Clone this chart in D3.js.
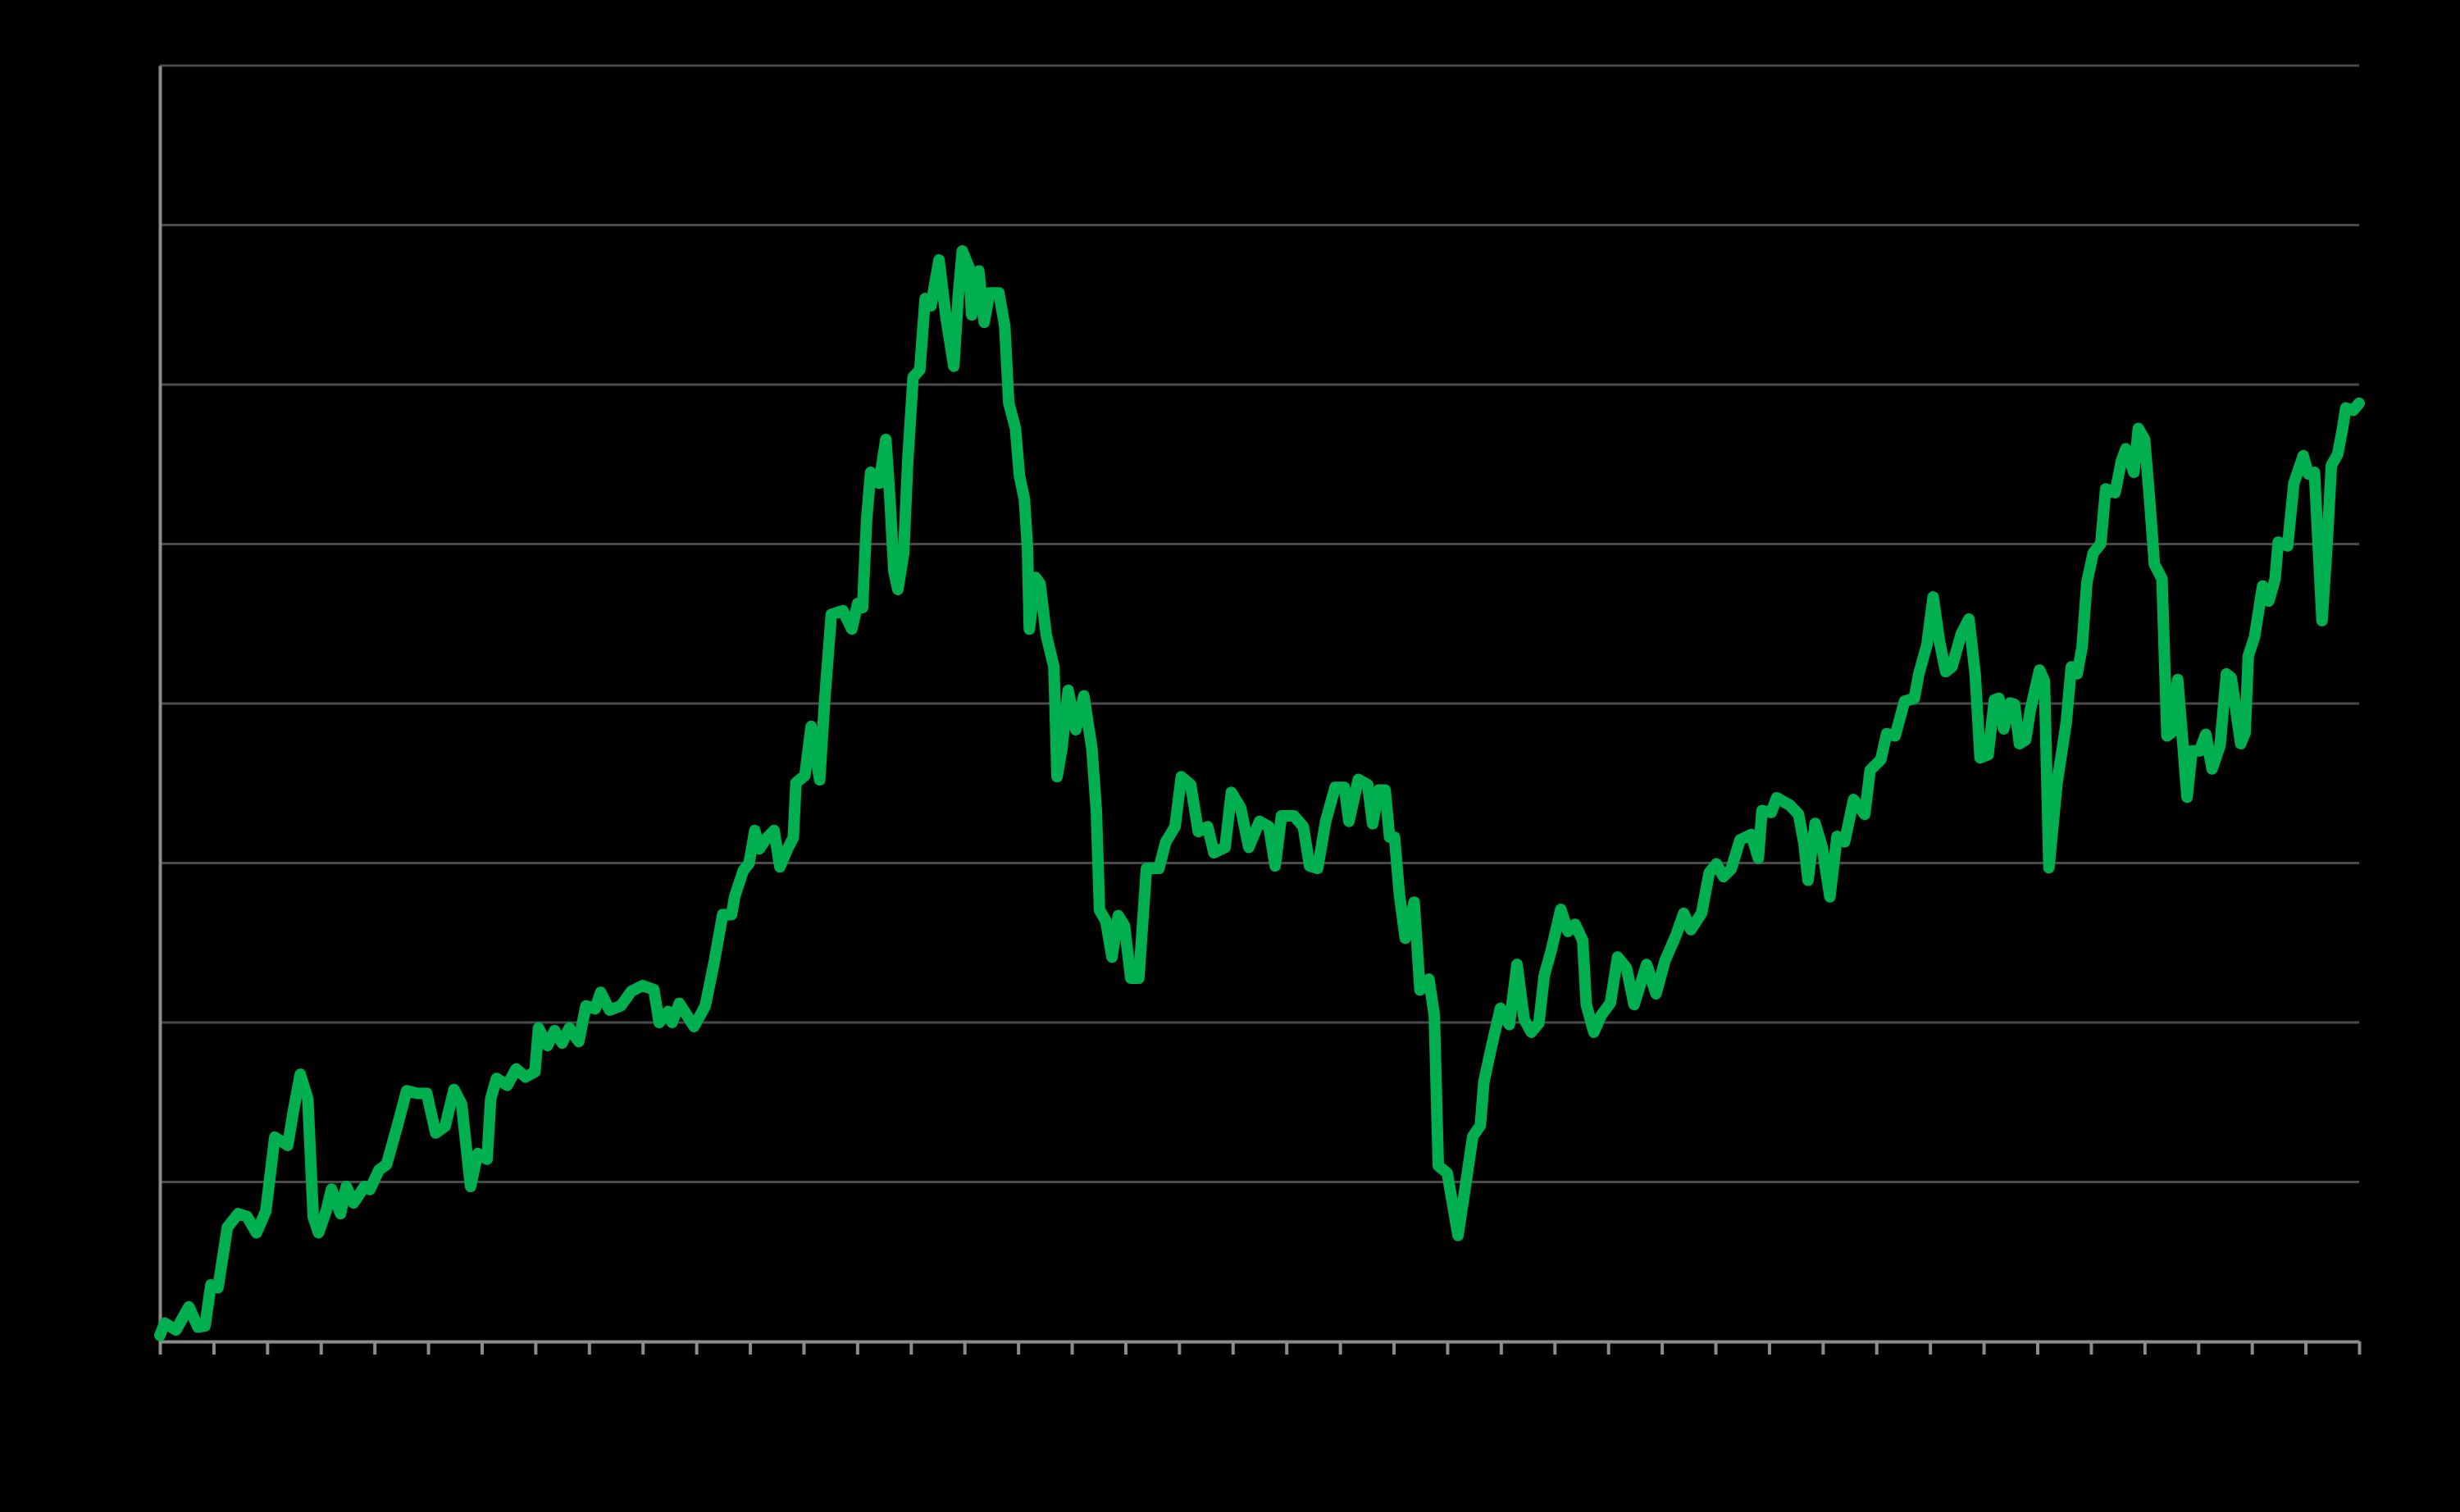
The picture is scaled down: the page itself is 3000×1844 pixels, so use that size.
<!DOCTYPE html>
<html>
<head>
<meta charset="utf-8">
<script src="https://cdn.jsdelivr.net/npm/d3@7"></script>
<style>
  html, body { margin: 0; padding: 0; background: #000; }
  svg { display: block; }
</style>
</head>
<body>
<svg id="chart"></svg>
<script>
// months since start of series (41 years, yearly ticks)
const months = [
  0, 1.1, 3.6, 6.5, 8.5, 10.1, 11.4, 13.0, 15.1, 17.5, 19.5, 21.6, 23.7, 25.7, 28.6, 29.8, 31.4, 33.1, 34.3, 35.5,
  37.2, 38.4, 40.4, 41.7, 43.3, 45.8, 47.0, 49.0, 50.7, 53.1, 55.2, 57.6, 59.7, 61.7, 63.8, 65.8, 67.5, 69.5, 71.1, 73.2,
  74.0, 75.3, 77.7, 79.7, 81.8, 83.9, 84.7, 86.7, 88.3, 90.0, 91.6, 93.7, 95.3, 97.4, 98.6, 100.6, 103.1, 105.5, 108.0, 110.5,
  111.7, 113.7, 114.6, 116.2, 119.5, 122.0, 124.0, 125.9, 127.9, 128.6, 130.5, 131.8, 133.1, 134.1, 135.8, 137.4, 138.7, 140.4, 141.7, 142.3,
  144.3, 145.7, 147.6, 148.7, 150.2, 152.8, 154.8, 156.1, 157.2, 158.1, 159.0, 160.9, 162.4, 163.3, 164.2, 165.1, 166.4, 167.3, 168.5, 170.0,
  171.2, 172.5, 174.3, 175.9, 177.6, 178.6, 179.5, 181.0, 181.6, 183.2, 184.4, 185.6, 187.7, 189.0, 189.9, 191.4, 192.3, 193.4, 194.1, 194.5,
  195.9, 196.9, 198.3, 200.0, 200.7, 201.8, 203.2, 204.9, 206.7, 208.5, 209.5, 210.2, 211.6, 213.0, 214.4, 215.8, 217.2, 219.0, 220.7, 223.5,
  225.0, 227.1, 228.5, 230.6, 232.3, 234.4, 235.8, 238.3, 239.7, 241.8, 243.6, 246.0, 248.1, 249.5, 250.9, 253.7, 255.8, 257.2, 259.0, 260.8,
  262.9, 265.0, 266.0, 268.1, 270.2, 271.3, 272.7, 274.1, 275.1, 276.2, 277.3, 278.6, 280.6, 281.9, 283.9, 285.1, 286.0, 288.0, 290.4, 292.5,
  293.7, 295.4, 296.2, 297.8, 299.9, 301.9, 303.6, 305.2, 306.8, 308.5, 309.7, 311.3, 313.4, 315.0, 316.6, 318.3, 319.1, 320.8, 322.4, 324.5,
  326.1, 328.1, 329.8, 332.6, 334.7, 336.7, 339.2, 340.9, 342.5, 344.9, 346.6, 348.2, 349.8, 351.5, 353.5, 356.0, 357.6, 358.4, 360.5, 361.7,
  364.6, 366.6, 367.8, 368.7, 370.3, 371.9, 373.6, 375.2, 376.9, 378.9, 381.4, 382.6, 385.0, 386.3, 388.2, 390.3, 392.5, 393.5, 395.3, 396.7,
  398.1, 399.5, 400.9, 403.0, 404.7, 406.1, 407.2, 409.0, 410.4, 411.4, 412.5, 413.9, 414.9, 416.0, 417.4, 418.4, 420.5, 421.6, 422.6, 424.4,
  426.5, 427.6, 428.9, 430.0, 431.1, 432.5, 434.2, 435.3, 437.4, 438.8, 439.8, 441.6, 442.6, 444.0, 445.1, 446.2, 447.9, 449.0, 450.0, 451.4,
  452.5, 453.5, 454.6, 456.3, 457.7, 459.1, 460.9, 462.3, 463.4, 465.5, 466.5, 467.2, 468.6, 470.4, 471.8, 473.2, 473.9, 476.0, 477.4, 479.5,
  480.6, 482.0, 483.7, 484.8, 485.8, 487.2, 488.3, 489.0, 490.7, 492
];

// index level (gridlines every 100)
const values = [
  3.8, 11.5, 7.2, 21.7, 9.0, 9.7, 35.5, 33.7, 71.5, 80.1, 78.3, 68.1, 81.8, 128.1, 122.9, 143.5, 167.5, 152.0, 78.3, 68.1,
  81.8, 95.5, 80.1, 97.2, 86.9, 97.2, 95.3, 107.5, 110.9, 134.9, 157.2, 155.5, 155.5, 130.7, 134.9, 158.0, 148.7, 97.2, 117.8, 114.3,
  152.0, 164.9, 160.6, 170.9, 165.8, 169.1, 196.6, 185.5, 194.9, 187.1, 196.6, 188.0, 210.4, 208.6, 218.9, 207.8, 210.4, 219.7, 223.1, 220.6,
  200.0, 206.9, 200.0, 212.0, 197.5, 210.3, 237.8, 267.6, 267.6, 279.1, 295.2, 299.8, 320.4, 308.9, 315.8, 320.4, 297.5, 308.9, 315.8, 350.3,
  354.9, 385.6, 352.1, 401.3, 455.8, 458.2, 446.7, 462.7, 460.1, 515.1, 545.0, 538.1, 565.6, 528.9, 483.0, 471.5, 494.4, 551.9, 604.6, 609.2,
  654.0, 649.4, 678.1, 641.4, 611.5, 655.2, 683.8, 673.5, 643.7, 671.2, 639.1, 657.4, 657.4, 636.8, 588.6, 572.5, 542.7, 528.3, 496.8, 446.6,
  479.1, 475.1, 442.7, 423.0, 354.1, 371.8, 408.2, 383.6, 404.8, 371.8, 332.7, 270.5, 263.8, 241.0, 267.0, 260.6, 227.7, 227.7, 296.6, 296.6,
  313.0, 322.8, 354.1, 349.2, 319.7, 322.8, 306.4, 309.8, 344.3, 334.4, 309.8, 326.1, 322.8, 298.2, 329.5, 329.5, 322.8, 298.2, 296.6, 326.1,
  347.4, 347.4, 326.1, 352.4, 349.2, 324.6, 345.8, 345.8, 316.2, 316.2, 280.3, 252.8, 275.4, 220.3, 227.2, 204.6, 110.1, 105.6, 66.5, 105.6,
  128.5, 135.4, 162.9, 183.6, 208.9, 198.7, 236.4, 202.0, 193.9, 199.6, 229.5, 245.6, 270.9, 257.1, 261.6, 251.4, 211.2, 193.9, 204.3, 212.3,
  241.0, 234.1, 211.2, 236.4, 218.0, 238.7, 254.8, 268.5, 258.2, 268.5, 293.8, 299.5, 291.5, 296.1, 314.5, 317.9, 303.0, 332.9, 331.7, 340.9,
  336.3, 330.5, 312.2, 289.2, 324.8, 309.8, 278.8, 316.7, 313.3, 339.8, 330.5, 358.1, 364.9, 381.1, 379.7, 401.4, 403.3, 418.6, 436.8, 466.8,
  439.2, 420.0, 423.0, 443.7, 453.0, 418.6, 365.9, 367.9, 402.3, 403.3, 384.1, 400.4, 399.4, 374.8, 377.2, 395.4, 421.0, 414.1, 297.0, 349.7,
  388.6, 423.0, 418.6, 434.8, 476.1, 494.3, 500.2, 534.6, 532.2, 551.9, 559.7, 545.0, 572.5, 565.6, 528.7, 487.4, 478.1, 379.7, 381.7, 415.1,
  377.2, 341.3, 370.3, 370.3, 380.7, 359.0, 373.8, 418.6, 416.1, 374.8, 381.7, 429.9, 441.7, 473.7, 464.3, 478.1, 501.2, 498.8, 538.1, 555.4,
  544.0, 545.0, 451.9, 498.8, 549.4, 556.3, 572.5, 585.3, 583.9, 588.3
];

const gridValues = [0, 100, 200, 300, 400, 500, 600, 700, 800];

const data = months.map((m, i) => ({ m, v: values[i] }));

const width = 3000;
const height = 1844;
const marginLeft = 195;
const marginRight = 123;
const marginTop = 80;
const marginBottom = 208;

const svg = d3.select("#chart")
    .attr("width", width)
    .attr("height", height)
    .attr("viewBox", [0, 0, width, height])
    .style("background", "#000");

const x = d3.scaleLinear().domain([0, 492]).range([marginLeft, width - marginRight]);
const y = d3.scaleLinear().domain([0, 800]).range([height - marginBottom, marginTop]);

// horizontal gridlines
svg.append("g")
    .selectAll("line")
    .data(gridValues.slice(1))
    .join("line")
      .attr("x1", marginLeft)
      .attr("x2", width - marginRight)
      .attr("y1", d => y(d))
      .attr("y2", d => y(d))
      .attr("stroke", "#4a4a4a")
      .attr("stroke-width", 3);

// y axis (no visible labels)
svg.append("g")
    .attr("transform", `translate(${marginLeft},0)`)
    .call(d3.axisLeft(y).tickValues([]).tickSizeOuter(0))
    .call(g => g.select(".domain").attr("stroke", "#8c8c8c").attr("stroke-width", 4));

// x axis, one tick per year
svg.append("g")
    .attr("transform", `translate(0,${y(0)})`)
    .call(d3.axisBottom(x).tickValues(d3.range(0, 493, 12)).tickFormat("").tickSize(16).tickSizeOuter(0))
    .call(g => g.select(".domain").attr("stroke", "#8c8c8c").attr("stroke-width", 4))
    .call(g => g.selectAll(".tick line").attr("stroke", "#8c8c8c").attr("stroke-width", 4));

const line = d3.line()
    .x(d => x(d.m))
    .y(d => y(d.v));

svg.append("path")
    .datum(data)
    .attr("fill", "none")
    .attr("stroke", "#00B050")
    .attr("stroke-width", 14)
    .attr("stroke-linejoin", "round")
    .attr("stroke-linecap", "round")
    .attr("d", line);
</script>
</body>
</html>
